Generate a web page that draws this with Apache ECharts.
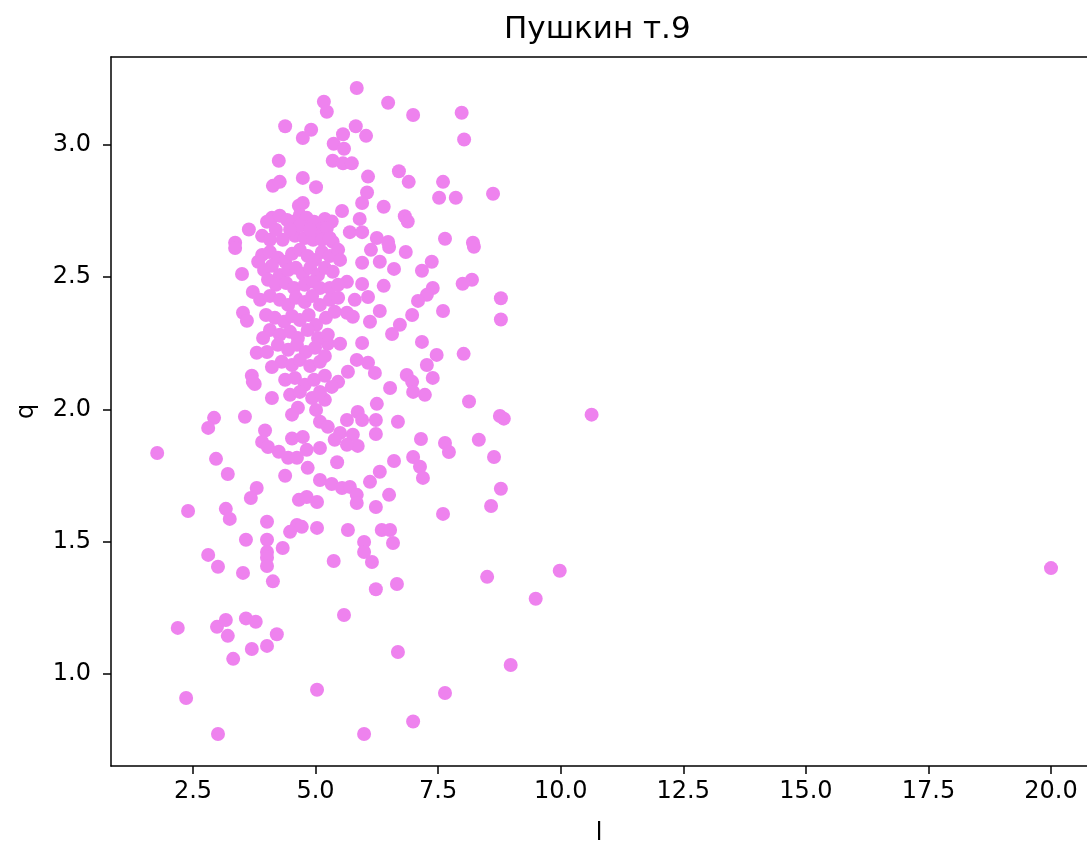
<!DOCTYPE html>
<html>
<head>
<meta charset="utf-8">
<script src="https://cdn.jsdelivr.net/npm/echarts@6/dist/echarts.min.js"></script>
<style>
  html, body { margin: 0; background: #fff; }
  #chart { width: 1087px; height: 843px; }
</style>
</head>
<body>
<div id="chart"></div>
<script>
// tick labels
const xTicks = [2.5, 5.0, 7.5, 10.0, 12.5, 15.0, 17.5, 20.0];
const yTicks = [1.0, 1.5, 2.0, 2.5, 3.0];

// [l, q]
const upperPoints = [
  [5.84, 3.215], [5.17, 3.163], [5.23, 3.125], [6.48, 3.159], [6.99, 3.113], [7.98, 3.121], [8.03, 3.02],
  [4.38, 3.07], [4.91, 3.057], [4.74, 3.026], [5.82, 3.07], [5.56, 3.04], [6.03, 3.034], [5.37, 3.004],
  [5.58, 2.985], [5.35, 2.94], [5.56, 2.93], [5.74, 2.93], [6.07, 2.88], [6.7, 2.9], [6.9, 2.86],
  [7.6, 2.86], [7.52, 2.8], [7.86, 2.8], [4.74, 2.875], [5.01, 2.84], [4.74, 2.78], [6.05, 2.82],
  [5.95, 2.78], [5.54, 2.75], [6.39, 2.766], [4.25, 2.94], [4.13, 2.845], [4.27, 2.86], [4.66, 2.77],
  [8.62, 2.815], [3.64, 2.68], [3.36, 2.63],
];

const rightPoints = [
  [5.9, 2.72], [6.82, 2.73], [6.88, 2.71], [5.19, 2.72], [5.33, 2.71], [7.64, 2.645], [8.21, 2.63],
  [8.23, 2.615], [8.19, 2.49], [8.0, 2.475], [8.78, 2.42], [8.78, 2.34], [8.02, 2.21], [8.13, 2.03],
  [6.13, 2.603], [6.5, 2.614], [6.84, 2.595], [5.95, 2.554], [6.31, 2.558], [6.6, 2.531], [7.17, 2.524],
  [7.37, 2.558], [5.64, 2.482], [5.95, 2.474], [6.39, 2.467], [7.39, 2.459], [7.27, 2.433], [7.09, 2.41],
  [5.8, 2.414], [6.07, 2.425], [5.64, 2.365], [5.76, 2.35], [6.31, 2.372], [6.11, 2.331], [6.97, 2.357],
  [7.6, 2.372], [6.72, 2.32], [6.56, 2.285], [7.17, 2.255], [5.25, 2.248], [5.5, 2.248], [5.95, 2.251],
  [7.47, 2.206], [7.27, 2.168], [5.84, 2.187], [6.07, 2.176], [6.21, 2.138], [5.66, 2.142], [6.86, 2.13],
  [7.39, 2.119], [6.97, 2.104], [6.52, 2.081], [6.99, 2.066], [7.23, 2.055], [5.46, 2.104], [5.33, 2.085],
  [5.19, 2.036], [6.25, 2.021], [5.86, 1.99], [5.7, 2.67], [5.95, 2.67], [6.25, 2.648], [6.48, 2.633],
  [5.35, 2.633],
];

const corePoints = [
  [4.01, 2.709], [4.11, 2.724], [4.27, 2.732], [4.42, 2.716], [4.54, 2.709], [4.68, 2.735], [4.82, 2.724],
  [4.97, 2.709], [5.09, 2.679], [5.23, 2.686], [3.91, 2.656], [4.07, 2.641], [4.33, 2.641], [4.58, 2.656],
  [4.78, 2.648], [4.95, 2.641], [5.13, 2.641], [5.29, 2.648], [4.68, 2.694], [4.89, 2.679], [4.48, 2.679],
  [4.19, 2.679],
  [3.91, 2.584], [4.07, 2.595], [4.23, 2.573], [4.38, 2.558], [4.52, 2.588], [4.68, 2.603], [4.84, 2.58],
  [4.99, 2.565], [5.13, 2.595], [5.29, 2.58], [5.46, 2.603], [3.95, 2.527], [4.11, 2.543], [4.27, 2.508],
  [4.44, 2.527], [4.6, 2.535], [4.74, 2.512], [4.89, 2.535], [5.05, 2.508], [5.19, 2.535], [5.35, 2.52],
  [5.5, 2.565], [3.83, 2.558], [4.03, 2.49], [4.19, 2.471], [4.4, 2.478], [4.56, 2.459], [4.78, 2.471],
  [4.95, 2.482], [5.09, 2.459], [5.29, 2.459], [5.46, 2.471],
  [3.87, 2.414], [4.07, 2.429], [4.27, 2.414], [4.44, 2.395], [4.6, 2.422], [4.78, 2.406], [4.93, 2.429],
  [5.09, 2.395], [5.29, 2.414], [5.46, 2.422], [3.99, 2.357], [4.17, 2.346], [4.36, 2.331], [4.52, 2.353],
  [4.68, 2.338], [4.86, 2.357], [5.01, 2.319], [5.21, 2.346], [5.39, 2.369], [4.07, 2.3], [4.27, 2.282],
  [4.48, 2.293], [4.64, 2.27], [4.84, 2.3], [5.05, 2.27], [5.25, 2.282],
  [4.23, 2.244], [4.44, 2.225], [4.62, 2.244], [4.8, 2.217], [4.99, 2.233], [5.19, 2.202], [4.31, 2.18],
  [4.52, 2.168], [4.68, 2.187], [4.89, 2.164], [5.09, 2.18], [4.38, 2.112], [4.58, 2.119], [4.78, 2.093],
  [4.97, 2.112], [5.19, 2.127], [4.48, 2.055], [4.68, 2.066], [4.93, 2.043], [5.09, 2.066], [4.64, 2.006],
  [5.01, 1.998],
];

const leftPoints = [
  [3.36, 2.61], [3.5, 2.512], [3.72, 2.444], [3.52, 2.365], [3.6, 2.335], [3.93, 2.27], [3.8, 2.214],
  [4.01, 2.217], [4.11, 2.16], [3.7, 2.127], [3.72, 2.104], [4.11, 2.043], [3.76, 2.096],
  [2.93, 1.968], [3.56, 1.972], [2.81, 1.93], [4.52, 1.98], [3.97, 1.92], [3.91, 1.877], [4.03, 1.858],
  [4.25, 1.84], [4.52, 1.89], [4.44, 1.817], [4.62, 1.817], [2.97, 1.813], [3.21, 1.756], [4.38, 1.749],
  [3.8, 1.703], [3.68, 1.665], [4.66, 1.658], [2.4, 1.616], [3.17, 1.624], [3.25, 1.586], [4.01, 1.575],
  [4.62, 1.563], [4.48, 1.537], [3.58, 1.507], [4.01, 1.507], [4.33, 1.476], [4.01, 1.461], [4.01, 1.439],
  [4.01, 1.408], [2.81, 1.45], [3.01, 1.405], [3.52, 1.382], [4.13, 1.35],
  [2.19, 1.174], [2.99, 1.178], [3.17, 1.204], [3.21, 1.144], [3.58, 1.21], [3.78, 1.197], [4.21, 1.15],
  [4.01, 1.106], [3.7, 1.094], [3.32, 1.057], [2.36, 0.909], [3.01, 0.773],
];

const lowerPoints = [
  [5.09, 1.953], [5.25, 1.934], [5.64, 1.96], [5.95, 1.96], [6.23, 1.96], [6.68, 1.953], [4.74, 1.896],
  [5.5, 1.911], [5.76, 1.904], [5.86, 1.862], [6.23, 1.907], [5.64, 1.866], [5.39, 1.885], [5.09, 1.854],
  [4.82, 1.847], [7.15, 1.888], [7.64, 1.873], [7.72, 1.839], [6.99, 1.82], [7.13, 1.783], [7.19, 1.741],
  [6.6, 1.805], [5.44, 1.8], [4.84, 1.779], [6.31, 1.764], [6.11, 1.726], [5.09, 1.733], [5.33, 1.718],
  [5.54, 1.703], [5.7, 1.707], [5.84, 1.677], [5.84, 1.646], [6.5, 1.677], [6.23, 1.631], [4.82, 1.669],
  [5.03, 1.65], [4.72, 1.556], [5.03, 1.552], [5.66, 1.544], [6.35, 1.544], [6.52, 1.544], [7.6, 1.605],
  [5.99, 1.499], [6.58, 1.495], [5.99, 1.461], [6.15, 1.423], [5.37, 1.427],
  [8.84, 1.965], [8.76, 1.975], [8.33, 1.885], [8.64, 1.82], [8.78, 1.7], [8.58, 1.635], [8.5, 1.367],
  [6.23, 1.32], [6.66, 1.34], [5.58, 1.223], [6.68, 1.083], [5.03, 0.94], [7.64, 0.928], [6.99, 0.82],
  [5.99, 0.773], [9.49, 1.284], [8.98, 1.034],
];

const outliers = [[1.77, 1.835], [20.0, 1.4], [9.98, 1.39], [10.63, 1.98]];

const allPoints = [...upperPoints, ...rightPoints, ...corePoints, ...leftPoints, ...lowerPoints, ...outliers];

const font = "DejaVu Sans";
const tickFont = { fontFamily: font, fontSize: 24, color: "#000" };
const spine = { color: "#000", width: 1.5 };
const chart = echarts.init(document.getElementById("chart"));

chart.setOption({
  animation: false,
  backgroundColor: "#fff",
  title: {
    text: "Пушкин т.9",
    left: 499,
    top: 9,
    textStyle: { fontFamily: font, fontSize: 31, fontWeight: "normal", color: "#000" },
  },
  grid: { left: 111, right: 0, top: 57, bottom: 77, containLabel: false, outerBoundsMode: "none" },
  xAxis: [
    {
      type: "value",
      min: 0.828,
      max: 20.734,
      name: "l",
      nameLocation: "middle",
      nameGap: 56,
      nameTextStyle: tickFont,
      axisLine: { show: true, lineStyle: spine },
      axisTick: { show: true, length: 8, lineStyle: spine, customValues: xTicks },
      axisLabel: {
        ...tickFont,
        margin: 14,
        customValues: xTicks,
        formatter: (v) => Number(v).toFixed(1),
      },
      splitLine: { show: false },
    },
    {
      // top spine
      type: "value",
      position: "top",
      min: 0.828,
      max: 20.734,
      axisLine: { show: true, lineStyle: spine },
      axisTick: { show: false },
      axisLabel: { show: false },
      splitLine: { show: false },
    },
  ],
  yAxis: {
    type: "value",
    min: 0.652,
    max: 3.332,
    name: "q",
    nameLocation: "middle",
    nameGap: 72,
    nameRotate: 90,
    nameTextStyle: tickFont,
    axisLine: { show: true, lineStyle: spine },
    axisTick: { show: true, length: 8, lineStyle: spine, customValues: yTicks },
    axisLabel: {
      ...tickFont,
      margin: 20,
      customValues: yTicks,
      formatter: (v) => Number(v).toFixed(1),
    },
    splitLine: { show: false },
  },
  series: [
    {
      type: "scatter",
      data: allPoints,
      symbol: "circle",
      symbolSize: 14,
      itemStyle: { color: "#ee82ee", opacity: 1 },
      emphasis: { disabled: true },
    },
  ],
});
</script>
</body>
</html>
